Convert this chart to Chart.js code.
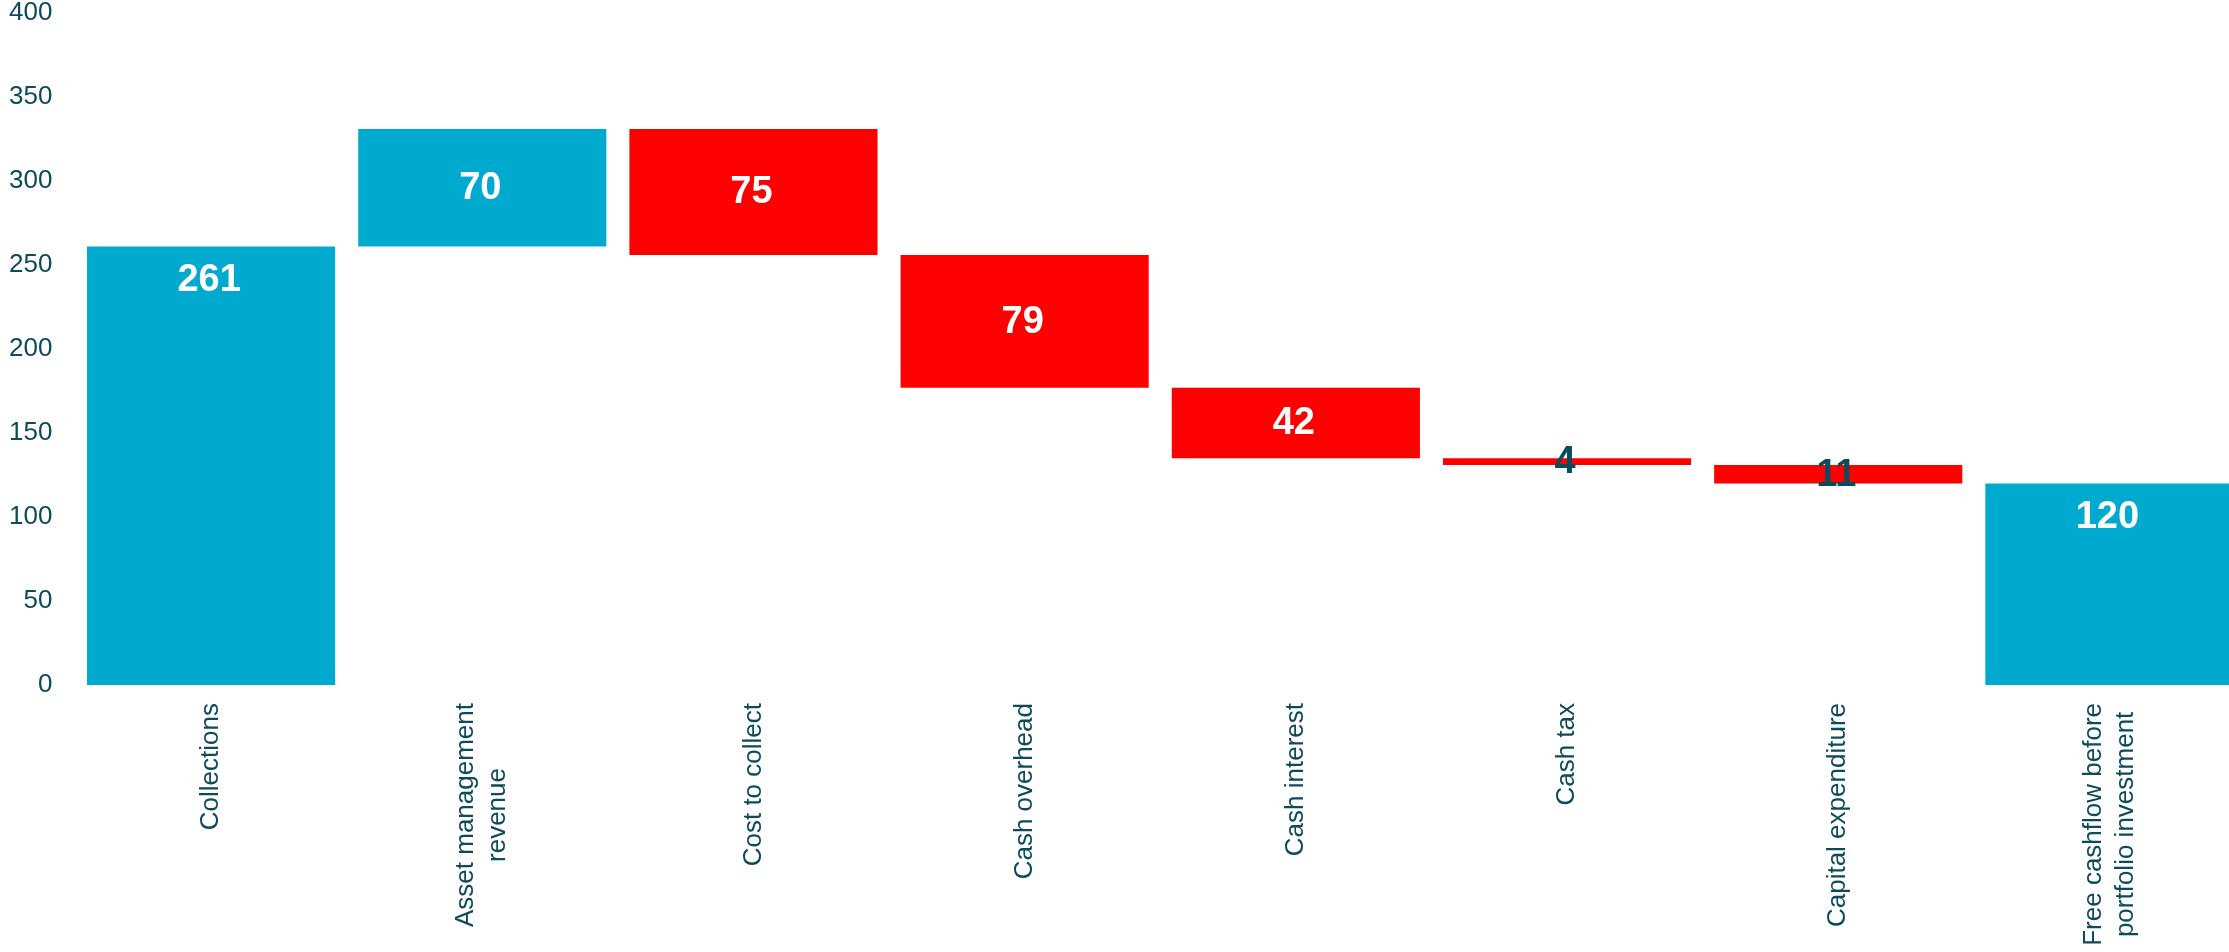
<!DOCTYPE html>
<html>
<head>
<meta charset="utf-8">
<script src="https://cdn.jsdelivr.net/npm/chart.js@4.4.1/dist/chart.umd.min.js"></script>
<style>
  html, body { margin: 0; padding: 0; background: #ffffff; overflow: hidden; }
  #wrap { position: relative; width: 2245px; height: 952px; }
</style>
</head>
<body>
<div id="wrap"><canvas id="c"></canvas></div>
<script>
// ---- Data ----
const categories = [
  ["Collections"],
  ["Asset management", "revenue"],
  ["Cost to collect"],
  ["Cash overhead"],
  ["Cash interest"],
  ["Cash tax"],
  ["Capital expenditure"],
  ["Free cashflow before", "portfolio investment"]
];
const changes = [261, 70, -75, -79, -42, -4, -11, 120];
const isTotal = [true, false, false, false, false, false, false, true];
const yTicks = [0, 50, 100, 150, 200, 250, 300, 350, 400];

// ---- Colours ----
const BLUE = '#00aacf';
const RED = '#ff0000';
const TEXT = '#0d4a5c';

// Build floating ranges for the waterfall from the values
const ranges = [];
let running = 0;
changes.forEach((v, i) => {
  if (isTotal[i]) {
    ranges.push([0, v]);
    running = v;
  } else {
    ranges.push([running, running + v]);
    running += v;
  }
});
const colors = changes.map((v, i) => (isTotal[i] || v > 0) ? BLUE : RED);

const valueLabels = {
  id: 'valueLabels',
  afterDatasetsDraw(chart) {
    const ctx = chart.ctx;
    const meta = chart.getDatasetMeta(0);
    ctx.save();
    ctx.font = 'bold 38px "Liberation Sans", Arial, sans-serif';
    ctx.textAlign = 'center';
    ctx.textBaseline = 'middle';
    meta.data.forEach((bar, i) => {
      const top = Math.min(bar.y, bar.base);
      const bottom = Math.max(bar.y, bar.base);
      const h = bottom - top;
      let y;
      if (isTotal[i]) y = top + 33;
      else y = (top + bottom) / 2;
      ctx.fillStyle = h < 40 ? TEXT : '#ffffff';
      ctx.fillText(String(Math.abs(changes[i])), bar.x - 2, y + 1);
    });
    ctx.restore();
  }
};

const categoryLabels = {
  id: 'categoryLabels',
  afterDraw(chart) {
    const ctx = chart.ctx;
    const xs = chart.scales.x;
    const area = chart.chartArea;
    ctx.save();
    ctx.font = '26px "Liberation Sans", Arial, sans-serif';
    ctx.fillStyle = TEXT;
    ctx.textAlign = 'center';
    ctx.textBaseline = 'middle';
    const lineH = 32;
    categories.forEach((lines, i) => {
      const x = xs.getPixelForValue(i);
      const maxW = Math.max(...lines.map(l => ctx.measureText(l).width));
      ctx.save();
      ctx.translate(x, area.bottom + 18);
      ctx.rotate(-Math.PI / 2);
      lines.forEach((line, j) => {
        ctx.fillText(line, -maxW / 2, (j - (lines.length - 1) / 2) * lineH);
      });
      ctx.restore();
    });
    ctx.restore();
  }
};

new Chart(document.getElementById('c'), {
  type: 'bar',
  data: {
    labels: categories.map(c => c.join(' ')),
    datasets: [{
      data: ranges,
      backgroundColor: colors,
      borderWidth: 0,
      barPercentage: 0.915,
      categoryPercentage: 1.0
    }]
  },
  options: {
    responsive: true,
    maintainAspectRatio: false,
    animation: false,
    layout: { padding: { top: 0, right: 0, bottom: 267, left: 0 } },
    plugins: {
      legend: { display: false },
      tooltip: { enabled: false }
    },
    scales: {
      x: {
        display: false,
        grid: { display: false }
      },
      y: {
        min: 0,
        max: 400,
        afterBuildTicks(scale) { scale.ticks = yTicks.map(v => ({ value: v })); },
        afterFit(scale) { scale.width = 75.5; },
        grid: { display: false, drawTicks: true, tickLength: 23 },
        border: { display: false },
        ticks: {
          padding: 0,
          color: TEXT,
          font: { family: '"Liberation Sans", Arial, sans-serif', size: 26, lineHeight: 1.0 }
        }
      }
    }
  },
  plugins: [valueLabels, categoryLabels]
});
</script>
</body>
</html>
